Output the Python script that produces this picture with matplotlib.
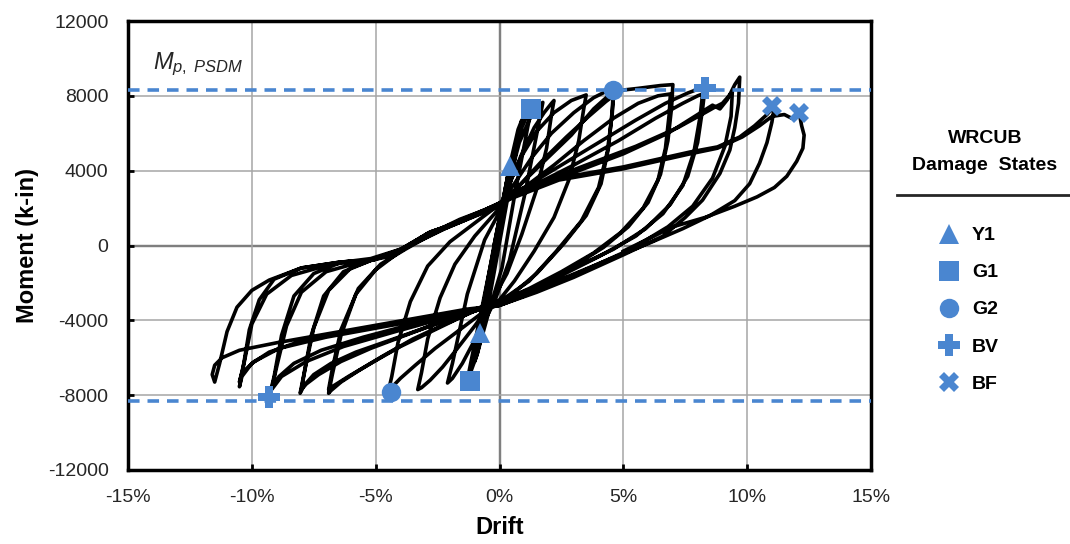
import numpy as np
import matplotlib
matplotlib.use("Agg")
import matplotlib.pyplot as plt
from matplotlib.lines import Line2D
from matplotlib.ticker import FuncFormatter

plt.rcParams["font.family"] = ["Liberation Sans", "DejaVu Sans"]
plt.rcParams["axes.unicode_minus"] = False
plt.rcParams["mathtext.fontset"] = "custom"
plt.rcParams["mathtext.it"] = "Liberation Sans:italic"
plt.rcParams["mathtext.rm"] = "Liberation Sans"

''' Data (drift in %, moment in k-in), read off the test curve cycle by cycle '''
c1_drift = [-0.22, 0.45, -0.85, -0.22]
c1_moment = [0, 4400, -4600, 0]
c2_drift = [-0.22, 0.42, -0.8, -0.2]
c2_moment = [0, 4300, -4700, 0]
c3_drift = [-0.2, 0.4, 0.75, 0.9, 0.75, 0.05, -0.5, -0.9, -1.0, -0.85, -0.2]
c3_moment = [0, 4200, 6200, 6700, 5600, 500, -3500, -5800, -6200, -5100, 0]
c4_drift = [-0.2, 0.4, 0.9, 1.2, 1.3, 1.15, 0.6, 0.1, -0.4, -0.9, -1.2, -1.3, -1.15, -0.6, -0.2]
c4_moment = [0, 3800, 6300, 7200, 7350, 6400, 2600, -1200, -3400, -5800, -6900, -7200, -6200, -2600, 0]
c5_drift = [-0.2, 0.3, 0.8, 1.3, 1.6, 1.75, 1.6, 1.0, 0.4, -0.2, -0.9, -1.5, -1.9, -2.1, -1.9, -1.3, -0.6, 0.0]
c5_moment = [0, 3000, 5500, 7000, 7500, 7650, 6600, 2600, -800, -3000, -4800, -6300, -7100, -7350, -6300, -2600,
             300, 1800]
c6_drift = [0.0, 0.4, 0.9, 1.4, 1.8, 2.1, 2.2, 2.1, 1.9, 1.5, 0.9, 0.3, -0.4, -1.0, -1.7, -2.3, -2.8, -3.15, -3.3,
            -3.15, -2.9, -2.4, -1.8, -1.0, -0.4, 0.0]
c6_moment = [1800, 3300, 4900, 6300, 7100, 7600, 7750, 7000, 5200, 3000, 600, -1500, -3200, -4300, -5500, -6500,
             -7200, -7600, -7700, -6800, -5000, -2800, -1000, 500, 1400, 2000]
c7_drift = [0.0, 0.4, 0.9, 1.5, 2.2, 2.9, 3.4, 3.5, 3.4, 3.2, 2.8, 2.2, 1.4, 0.6, 0.0, -0.8, -1.7, -2.6, -3.4, -4.0,
            -4.4, -4.5, -4.35, -4.1, -3.6, -2.9, -2.0, -1.0, 0.0]
c7_moment = [2000, 3300, 4800, 6100, 7100, 7750, 8000, 8050, 7300, 5600, 3500, 1500, -300, -1900, -2900, -3700,
             -4600, -5500, -6400, -7100, -7650, -7850, -7000, -5200, -3000, -1100, 200, 1200, 2200]
c8_drift = [0.0, 0.6, 1.3, 2.1, 3.0, 3.8, 4.4, 4.6, 4.55, 4.4, 4.1, 3.5, 2.6, 1.5, 0.6, 0.0, -1.0, -2.2, -3.5, -4.7,
            -5.7, -6.4, -6.8, -6.9, -6.75, -6.4, -5.8, -5.0, -4.1, -3.0, -1.6, 0.0]
c8_moment = [2200, 3300, 4700, 6000, 7100, 7900, 8300, 8350, 7200, 5200, 3300, 1600, 100, -1500, -2500, -3100,
             -3500, -4200, -5000, -5900, -6700, -7300, -7750, -7900, -6900, -4800, -2600, -1300, -400, 500, 1400,
             2200]
c8b_drift = [0.0, 0.8, 1.7, 2.7, 3.6, 4.3, 4.6, 4.55, 4.35, 4.0, 3.3, 2.3, 1.2, 0.0, -1.2, -2.6, -4.0, -5.2, -6.1,
             -6.7, -6.9, -6.75, -6.4, -5.7, -4.8, -3.8, -2.6, -1.3, 0.0]
c8b_moment = [2100, 3200, 4500, 5800, 6900, 7700, 8000, 7000, 5000, 3100, 1300, -300, -1900, -3000, -3600, -4500,
              -5400, -6300, -7000, -7500, -7700, -6600, -4500, -2300, -1000, -200, 700, 1400, 2100]
c9_drift = [0.0, 0.8, 1.8, 2.9, 3.8, 4.6, 5.6, 6.5, 7.0, 6.95, 6.8, 6.5, 6.0, 5.2, 4.2, 3.0, 1.6, 0.0, -1.5, -3.0,
            -4.5, -5.8, -6.8, -7.5, -7.9, -8.05, -7.9, -7.6, -7.1, -6.3, -5.2, -4.1, -2.9, -1.5, 0.0]
c9_moment = [2200, 3200, 4500, 5900, 7300, 8250, 8400, 8550, 8600, 7400, 5600, 3800, 2300, 1000, -100, -1100, -2100,
             -3100, -3700, -4400, -5100, -5700, -6300, -6900, -7500, -7900, -6900, -4800, -2700, -1400, -800, -300,
             600, 1400, 2250]
c9b_drift = [0.0, 1.0, 2.2, 3.4, 4.6, 5.6, 6.4, 6.9, 6.85, 6.7, 6.4, 5.8, 4.9, 3.8, 2.5, 1.2, 0.0, -1.8, -3.6, -5.2,
             -6.4, -7.3, -7.8, -8.0, -7.85, -7.5, -6.9, -6.0, -4.8, -3.6, -2.2, 0.0]
c9b_moment = [2100, 3100, 4300, 5600, 6800, 7600, 8000, 8100, 7000, 5200, 3500, 2000, 700, -400, -1400, -2300,
              -3000, -3800, -4700, -5500, -6200, -6900, -7400, -7700, -6600, -4400, -2400, -1200, -600, 0, 900, 2150]
c10_drift = [0.0, 1.0, 2.5, 4.0, 5.5, 6.7, 7.6, 8.1, 8.3, 8.2, 8.0, 7.6, 6.9, 5.9, 4.6, 3.0, 1.5, 0.0, -1.5, -3.5,
             -5.5, -7.2, -8.3, -8.9, -9.2, -9.3, -9.1, -8.8, -8.3, -7.5, -6.4, -5.2, -4.0, -2.8, -1.4, 0.0]
c10_moment = [2250, 3100, 4300, 5500, 6700, 7600, 8150, 8400, 8450, 7300, 5500, 3700, 2200, 900, -200, -1200, -2200,
              -3100, -3600, -4200, -4900, -5600, -6300, -7000, -7600, -8100, -7000, -4800, -2700, -1500, -900, -700,
              -200, 700, 1400, 2250]
c10b_drift = [0.0, 1.2, 3.0, 4.8, 6.3, 7.4, 8.0, 8.2, 8.1, 7.85, 7.4, 6.6, 5.5, 4.0, 2.2, 0.0, -2.0, -4.2, -6.3,
              -7.8, -8.8, -9.2, -9.0, -8.6, -8.0, -7.0, -5.8, -4.5, -3.2, -1.6, 0.0]
c10b_moment = [2150, 3100, 4300, 5600, 6800, 7600, 8000, 8100, 6900, 5000, 3200, 1700, 500, -600, -1800, -3000,
               -3800, -4600, -5400, -6200, -7000, -7700, -6500, -4300, -2500, -1400, -950, -600, 300, 1300, 2200]
c11_drift = [0.0, 1.0, 3.0, 5.0, 6.8, 8.0, 8.6, 8.9, 9.2, 9.5, 9.7, 9.65, 9.5, 9.3, 8.9, 8.2, 7.5, 6.6, 5.0, 3.0,
             1.5, 0.0, -1.5, -3.5, -6.0, -8.0, -9.3, -10.0, -10.4, -10.5, -10.35, -10.1, -9.7, -9.1, -8.0, -6.4,
             -5.1, -4.0, -2.8, -1.6, 0.0]
c11_moment = [2250, 3000, 3900, 4900, 6000, 7000, 7500, 7300, 7800, 8600, 9000, 7600, 6300, 5100, 3850, 2430, 1500,
              500, -500, -1700, -2500, -3200, -3600, -4000, -4600, -5100, -5700, -6300, -7000, -7550, -6500, -4500,
              -2900, -1800, -1200, -880, -780, -250, 720, 1260, 2270]
c11b_drift = [0.0, 1.5, 3.5, 5.5, 7.2, 8.3, 8.7, 9.0, 9.4, 9.35, 9.1, 8.6, 7.8, 6.8, 5.3, 3.3, 1.5, 0.0, -2.0, -4.5,
              -7.0, -8.9, -9.9, -10.4, -10.5, -10.3, -10.0, -9.4, -8.4, -6.8, -5.3, -4.1, -2.9, -1.5, 0.0]
c11b_moment = [2200, 3300, 4300, 5300, 6300, 7100, 7400, 7600, 8200, 6900, 5300, 3600, 2100, 1000, -200, -1400,
               -2400, -3200, -3700, -4300, -4900, -5500, -6200, -6800, -7300, -6200, -4200, -2600, -1600, -1000, -800,
               -300, 650, 1300, 2250]
c12_drift = [0.0, 0.7, 2.4, 5.0, 7.7, 8.8, 9.7, 10.3, 10.8, 11.1, 11.0, 10.8, 10.5, 10.1, 9.5, 8.5, 7.4, 6.0, 4.5,
             2.5, 1.0, 0.0, -1.3, -3.0, -6.0, -9.0, -10.5, -11.2, -11.5, -11.6, -11.5, -11.3, -11.0, -10.6, -10.0,
             -9.3, -8.0, -6.4, -5.1, -4.0, -2.8, -1.6, 0.0]
c12_moment = [2270, 2970, 3600, 4200, 5000, 5270, 5800, 6400, 7000, 7450, 6600, 5500, 4400, 3300, 2400, 1600, 900,
              100, -700, -1800, -2700, -3200, -3400, -3800, -4500, -5200, -5600, -6000, -6400, -6900, -7300, -6300,
              -4600, -3300, -2400, -1850, -1200, -880, -780, -250, 720, 1260, 2270]
c13_drift = [0.0, 2.4, 5.0, 7.7, 8.8, 9.8, 10.5, 11.0, 11.5, 11.8, 12.1, 12.2, 12.3, 12.25, 12.0, 11.6, 11.1, 10.4,
             9.5, 8.3, 7.0, 5.0]
c13_moment = [2270, 3500, 4100, 4900, 5200, 5800, 6400, 6900, 7000, 6800, 7090, 6400, 5900, 5200, 4500, 3700, 3100,
              2600, 2100, 1500, 1000, -300]

# damage state markers
ds_labels = ["Y1", "G1", "G2", "BV", "BF"]
ds_markers = ["^", "s", "o", "P", "X"]
ds_sizes = [15, 14, 14, 16, 15]
y1_drift, y1_moment = [0.42, -0.8], [4250, -4680]
g1_drift, g1_moment = [1.27, -1.2], [7300, -7250]
g2_drift, g2_moment = [4.58, -4.4], [8320, -7840]
bv_drift, bv_moment = [8.3, -9.3], [8430, -8100]
bf_drift, bf_moment = [11.0, 12.1], [7460, 7090]

mp_psdm = 8320

''' Plot '''
blue = "#4A86D0"
drift = np.concatenate([c1_drift, c2_drift, c3_drift, c4_drift, c5_drift, c6_drift, c7_drift,
                        c8_drift, c8b_drift, c9_drift, c9b_drift, c10_drift, c10b_drift,
                        c11_drift, c11b_drift, c12_drift, c13_drift])
moment = np.concatenate([c1_moment, c2_moment, c3_moment, c4_moment, c5_moment, c6_moment, c7_moment,
                         c8_moment, c8b_moment, c9_moment, c9b_moment, c10_moment, c10b_moment,
                         c11_moment, c11b_moment, c12_moment, c13_moment])

fig = plt.figure(figsize=(10.7, 5.44), dpi=100)
ax = fig.add_axes([128 / 1070, 1 - 470 / 544, (871 - 128) / 1070, (470 - 21) / 544])

ax.grid(True, color="#A6A6A6", linewidth=1.1, zorder=0)
ax.axhline(0, color="black", linewidth=1.6, zorder=1)
ax.axvline(0, color="black", linewidth=1.6, zorder=1)

ax.plot(drift, moment, color="black", linewidth=2.6, solid_joinstyle="round", zorder=2)

for m in [mp_psdm, -mp_psdm]:
    ax.axhline(m, color=blue, linewidth=2.6, linestyle=(0, (3.2, 2.2)), zorder=3)

ds_data = [(y1_drift, y1_moment), (g1_drift, g1_moment), (g2_drift, g2_moment),
           (bv_drift, bv_moment), (bf_drift, bf_moment)]
handles = []
for (dx, dy), mk, ms, lab in zip(ds_data, ds_markers, ds_sizes, ds_labels):
    h, = ax.plot(dx, dy, linestyle="none", marker=mk, markersize=ms, color=blue,
                 markeredgewidth=0, zorder=4, label=lab)
    handles.append(h)

ax.text(-14.0, 9700, r"$M_{p,\ PSDM}$", fontsize=17, color="#262626", va="center", ha="left")

ax.set_xlim(-15, 15)
ax.set_ylim(-12000, 12000)
ax.set_xticks(np.arange(-15, 16, 5))
ax.set_yticks(np.arange(-12000, 12001, 4000))
ax.xaxis.set_major_formatter(FuncFormatter(lambda v, p: f"{v:.0f}%"))
ax.tick_params(direction="in", length=4, width=2, labelsize=14, labelcolor="#262626")
ax.tick_params(axis="x", pad=14)
ax.tick_params(axis="y", pad=14)
for s in ax.spines.values():
    s.set_linewidth(2.5)

ax.set_xlabel("Drift", fontsize=17, fontweight="bold", labelpad=7)
ax.set_ylabel("Moment (k-in)", fontsize=17, fontweight="bold", labelpad=6)

fig.text(985 / 1070, 1 - 152 / 544, "WRCUB\nDamage  States", ha="center", va="center",
         fontsize=14, fontweight="bold", linespacing=1.75)
fig.add_artist(Line2D([897 / 1070, 1.0], [1 - 195 / 544, 1 - 195 / 544], color="#262626", linewidth=2))
fig.legend(handles=handles, labels=ds_labels, loc="upper left", bbox_to_anchor=(930 / 1070, 1 - 219 / 544),
           frameon=False, numpoints=1, prop={"weight": "bold", "size": 14}, labelspacing=1.0,
           handlelength=1.2, handletextpad=0.55, borderaxespad=0)

fig.savefig("out.png", dpi=100)
